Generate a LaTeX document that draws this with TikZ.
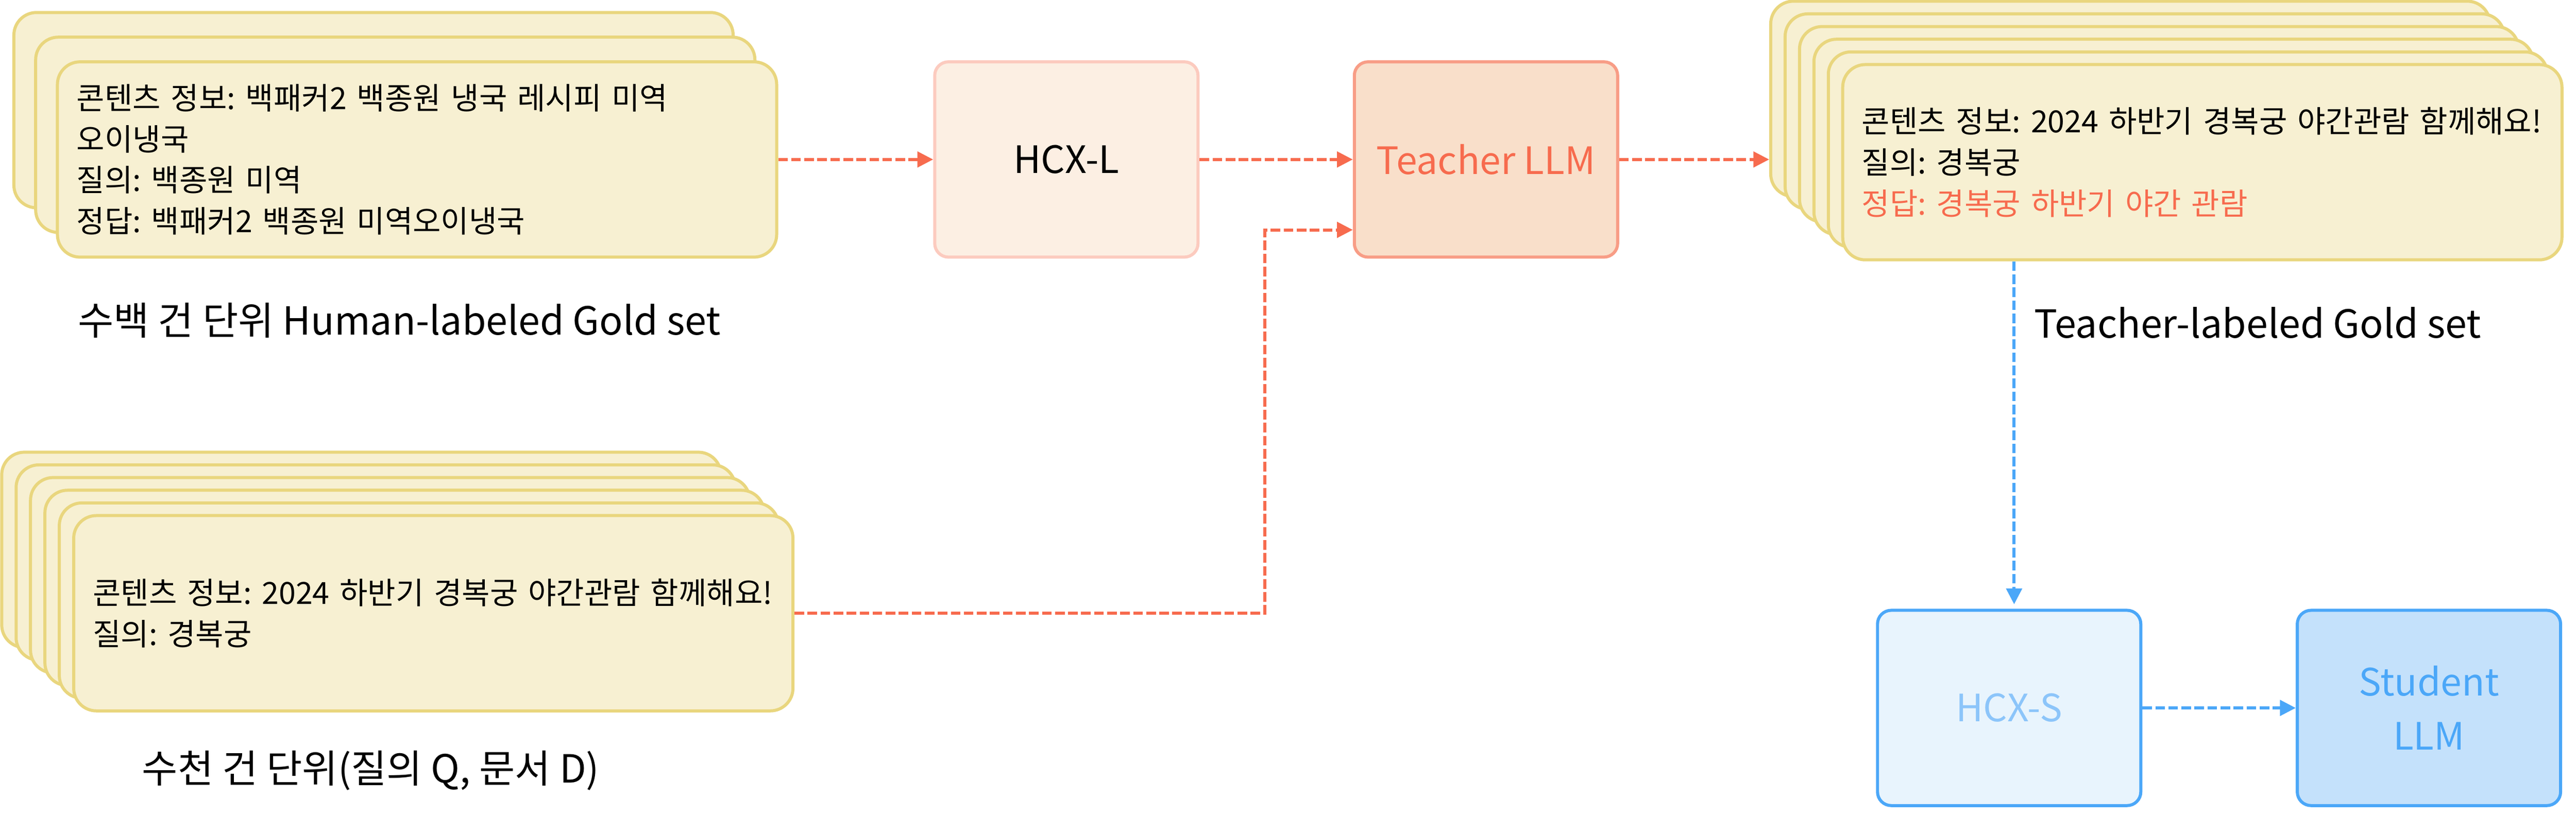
\documentclass[tikz,border=0pt]{standalone}
\usepackage{fontspec}
\setmainfont{Noto Sans CJK KR}
\frenchspacing
\usetikzlibrary{arrows.meta,positioning}
\tikzset{>={Triangle[length=4.6mm,width=4.5mm]}}

\definecolor{cardfill}{HTML}{F7F0D2}
\definecolor{cardline}{HTML}{E9D67E}
\definecolor{redflow}{HTML}{F76B4E}
\definecolor{blueflow}{HTML}{4BA7F8}
\definecolor{hcxlfill}{HTML}{FCEFE3}
\definecolor{hcxlline}{HTML}{FCCBBF}
\definecolor{teachfill}{HTML}{F9DFCA}
\definecolor{teachline}{HTML}{F89D86}
\definecolor{hcxsfill}{HTML}{E8F4FD}
\definecolor{hcxstext}{HTML}{8CC5FA}
\definecolor{studfill}{HTML}{C4E1FB}

\newcommand\cardfont{\fontsize{25.3pt}{34.1pt}\selectfont}
\newcommand\bigfont{\fontsize{31.3pt}{44.7pt}\selectfont}
\newcommand\capfont{\fontsize{32.2pt}{40pt}\selectfont}

\tikzset{
  card/.style={draw=cardline, fill=cardfill, line width=0.9mm, rounded corners=6.6mm,
    minimum width=20.98cm, minimum height=5.7cm, text width=19.86cm, inner xsep=5.6mm,
    align=left, font=\cardfont},
  model/.style={line width=0.9mm, rounded corners=4mm, minimum width=7.68cm,
    minimum height=5.7cm, align=center, font=\bigfont},
  caption/.style={anchor=west, inner sep=0pt, font=\capfont},
  redarrow/.style={->, redflow, line width=0.9mm, dash pattern=on 2.8mm off 1mm},
  bluearrow/.style={->, blueflow, line width=0.9mm, dash pattern=on 2.8mm off 1mm}
}

\begin{document}
\begin{tikzpicture}
  \useasboundingbox[fill=white] (0,0) rectangle (75.14,-23.81);

  % Human-labeled stack
  \node[card] at (10.895,-3.215) {};
  \node[card] at (11.53,-3.935) {};
  \node[card] (human) at (12.165,-4.655) {콘텐츠 정보: 백패커2 백종원 냉국 레시피 미역\\오이냉국\\질의: 백종원 미역\\정답: 백패커2 백종원 미역오이냉국};
  \node[caption] (humancap) at (2.27,-9.35) {수백 건 단위 Human-labeled Gold set};

  % Query stack
  \node[card] at (10.54,-16.05) {};
  \node[card] at (10.96,-16.42) {};
  \node[card] at (11.38,-16.79) {};
  \node[card] at (11.80,-17.16) {};
  \node[card] at (12.22,-17.53) {};
  \node[card] (query) at (12.64,-17.90) {콘텐츠 정보: 2024 하반기 경복궁 야간관람 함께해요!\\질의: 경복궁};
  \node[caption] (querycap) at (4.14,-22.50) {수천 건 단위(질의 Q, 문서 D)};

  % Models
  \node[model, draw=hcxlline, fill=hcxlfill] (hcxl) at (31.105,-4.655) {HCX-L};
  \node[model, draw=teachline, fill=teachfill, text=redflow] (teacher) at (43.345,-4.655) {Teacher LLM};
  \node[model, draw=blueflow, fill=hcxsfill, text=hcxstext] (hcxs) at (58.605,-20.665) {HCX-S};
  \node[model, draw=blueflow, fill=studfill, text=blueflow] (student) at (70.85,-20.665) {Student\\LLM};

  % Teacher-labeled stack
  \node[card] (tback) at (62.14,-2.885) {};
  \node[card] at (62.56,-3.255) {};
  \node[card] at (62.98,-3.625) {};
  \node[card] at (63.40,-3.995) {};
  \node[card] at (63.82,-4.365) {};
  \node[card] (tgold) at (64.24,-4.735) {콘텐츠 정보: 2024 하반기 경복궁 야간관람 함께해요!\\질의: 경복궁\\\textcolor{redflow}{정답: 경복궁 하반기 야간 관람}};
  \node[caption] (tgoldcap) at (59.33,-9.43) {Teacher-labeled Gold set};

  % Flows
  \coordinate (turn) at (36.90,-6.71);
  \coordinate (drop) at (58.75,-17.64);
  \draw[redarrow] (human.east) -- (hcxl.west);
  \draw[redarrow] (hcxl.east) -- (teacher.west);
  \draw[redarrow] (teacher.east) -- (teacher.east -| tback.west);
  \draw[redarrow] (query.east) -| (turn) -- (turn -| teacher.west);
  \draw[bluearrow] (drop |- tgold.south) -- (drop);
  \draw[bluearrow] (hcxs.east) -- (student.west);
\end{tikzpicture}
\end{document}
